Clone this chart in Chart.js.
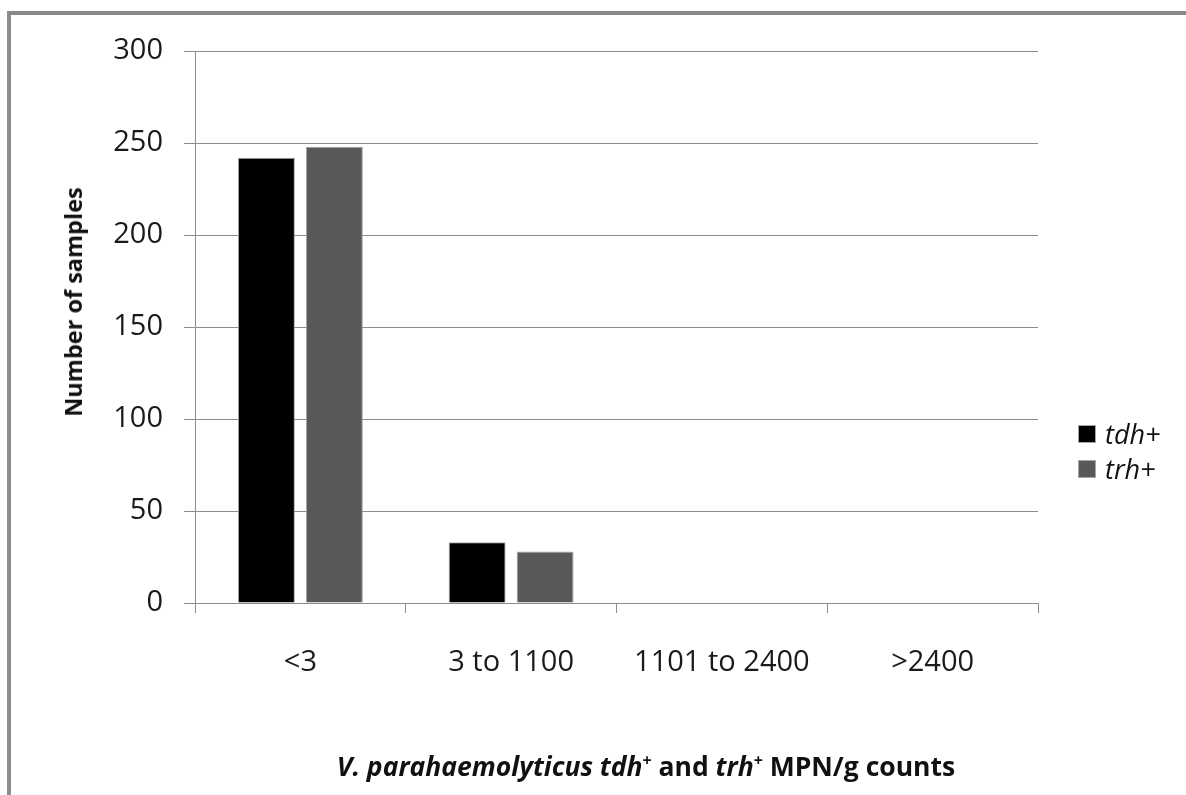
<!DOCTYPE html>
<html>
<head>
<meta charset="utf-8">
<script src="https://cdn.jsdelivr.net/npm/chart.js@4.4.1/dist/chart.umd.min.js"></script>
<style>
  html, body { margin: 0; padding: 0; background: #fff; overflow: hidden; }
  #wrap { position: relative; width: 1186px; height: 795px; font-family: 'Open Sans', sans-serif; color: #111; }
  #frame { position: absolute; left: 7px; top: 11px; width: 1200px; height: 800px; border-top: 4px solid #888; border-left: 4px solid #8c8c8c; }
  #chart { position: absolute; left: 0; top: 0; }
  #yTitle { position: absolute; left: 73px; top: 302px; transform: translate(-50%, -50%) rotate(-90deg); font-weight: bold; font-size: 23.5px; white-space: nowrap; }
  #xTitle { position: absolute; left: 646px; top: 749px; transform: translateX(-50%); font-weight: bold; font-size: 26.5px; white-space: nowrap; line-height: 34px; }
  #xTitle sup { font-size: 16px; vertical-align: 10px; line-height: 0; }
  #legend { position: absolute; left: 1078px; top: 416px; }
  .item { display: flex; align-items: center; height: 35px; font-style: italic; font-size: 27px; }
  .swatch { width: 18px; height: 18px; margin-right: 9px; box-sizing: border-box; border: 1px solid #a6a6a6; }
</style>
</head>
<body>
<div id="wrap">
  <div id="frame"></div>
  <canvas id="chart" width="1186" height="795"></canvas>
  <div id="yTitle">Number of samples</div>
  <div id="xTitle"><i>V. parahaemolyticus tdh</i><sup>+</sup> and <i>trh</i><sup>+</sup> MPN/g counts</div>
  <div id="legend"></div>
</div>
<script>
const categories = ['<3', '3 to 1100', '1101 to 2400', '>2400'];
const seriesNames = ['tdh+', 'trh+'];
const tdhCounts = [242, 33, 0, 0];
const trhCounts = [248, 28, 0, 0];
const yMin = 0;
const yMax = 300;
const yStep = 50;

const gridGray = '#8c8c8c';
const barColors = ['#000000', '#595959'];

const ctx = document.getElementById('chart').getContext('2d');
const chart = new Chart(ctx, {
    type: 'bar',
    data: {
        labels: categories,
        datasets: [
            { label: seriesNames[0], data: tdhCounts, backgroundColor: barColors[0] },
            { label: seriesNames[1], data: trhCounts, backgroundColor: barColors[1] }
        ]
    },
    options: {
        responsive: false,
        animation: false,
        datasets: {
            bar: { categoryPercentage: 0.645, barPercentage: 0.838, borderWidth: 1, borderColor: '#a6a6a6' }
        },
        layout: { padding: { top: 51, right: 148, left: 0, bottom: 0 } },
        plugins: { legend: { display: false }, tooltip: { enabled: false } },
        scales: {
            x: {
                grid: { offset: true, drawOnChartArea: false, tickLength: 10, color: gridGray },
                border: { color: gridGray },
                ticks: { padding: 32, color: '#1a1a1a', font: { family: 'Open Sans', size: 29 } },
                afterFit: (scale) => { scale.height = 192; }
            },
            y: {
                min: yMin,
                max: yMax,
                grid: { color: gridGray, tickLength: 11 },
                border: { color: gridGray },
                ticks: { stepSize: yStep, padding: 21, color: '#1a1a1a', font: { family: 'Open Sans', size: 29 } },
                afterFit: (scale) => { scale.width = 195; }
            }
        }
    }
});

// legend drawn as html, from the datasets
const legend = document.getElementById('legend');
chart.data.datasets.forEach(ds => {
    const item = document.createElement('div');
    item.className = 'item';
    item.innerHTML = `<span class="swatch" style="background:${ds.backgroundColor}"></span><span>${ds.label}</span>`;
    legend.appendChild(item);
});
</script>
</body>
</html>
